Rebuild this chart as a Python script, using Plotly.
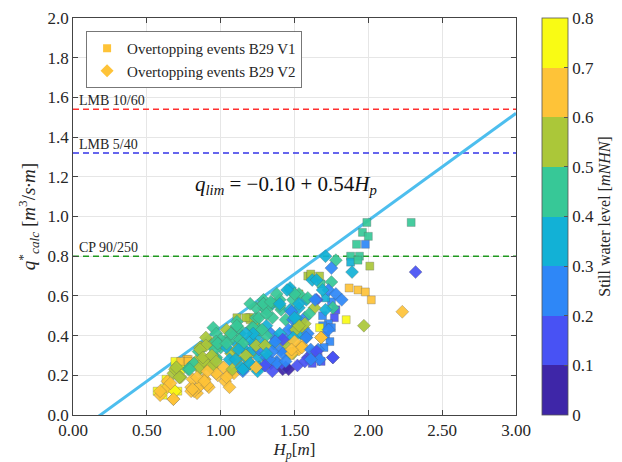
import plotly.graph_objects as go
import numpy as np

# ---------------- data ----------------
# V1 squares: H_p [m], q*_calc, still water level [m NHN]
v1_H = [0.57,0.62,0.70,0.73,0.77,0.69,0.73,0.78,0.73,0.63,0.61,0.71,1.22,1.31,
        1.19,1.11,1.20,1.53,1.59,1.61,1.67,1.68,1.61,
        1.99,2.29,1.96,2.00,1.92,1.98,1.88,1.94,1.88,1.93,2.01,
        1.87,1.93,1.98,2.02,1.85,
        1.75,1.71,1.78,1.69,1.77,1.73,1.69,1.75,1.67,1.71,1.74,1.70,1.60,1.66,1.62,1.68,
        1.24,1.20,1.17,0.78]
v1_q = [0.12,0.135,0.235,0.26,0.28,0.27,0.27,0.28,0.23,0.18,0.10,0.12,0.245,0.29,
        0.49,0.49,0.49,0.61,0.70,0.70,0.70,0.66,0.71,
        0.97,0.97,0.92,0.90,0.86,0.86,0.80,0.80,0.77,0.78,0.75,
        0.64,0.63,0.62,0.58,0.48,
        0.57,0.59,0.53,0.50,0.49,0.46,0.45,0.44,0.44,0.40,0.37,0.34,0.28,0.29,0.26,0.27,
        0.47,0.48,0.49,0.27]
v1_level = [0.75,0.75,0.75,0.75,0.65,0.75,0.65,0.65,0.75,0.75,0.75,0.75,0.75,0.75,
            0.55,0.55,0.55,0.55,0.55,0.55,0.55,0.45,0.55,
            0.45,0.45,0.45,0.45,0.45,0.25,0.45,0.45,0.35,0.45,0.55,
            0.65,0.65,0.65,0.65,0.75,
            0.25,0.35,0.15,0.25,0.15,0.25,0.25,0.25,0.75,0.25,0.25,0.25,0.15,0.15,0.15,0.15,
            0.55,0.55,0.55,0.65]

# V2 diamonds
v2_H = [0.59,0.64,0.68,0.69,0.72,0.68,0.78,0.82,0.80,0.84,0.86,0.89,0.92,0.86,0.87,0.93,0.86,0.95,0.98,1.03,
        1.06,1.09,0.97,1.00,1.04,1.07,1.11,1.13,1.16,1.20,1.17,1.13,1.21,1.24,1.29,1.24,1.29,1.34,1.38,1.42,
        1.41,1.44,1.47,1.53,1.49,1.44,1.41,1.35,1.49,1.53,1.58,1.47,1.53,1.62,1.11,1.07,0.95,0.90,0.97,0.99,
        1.04,1.11,1.15,1.22,1.26,1.31,1.34,1.38,1.31,1.35,1.40,1.24,1.29,1.22,1.26,1.18,1.15,
        1.47,1.40,1.34,1.29,1.31,1.26,1.22,1.12,1.08,1.04,1.00,0.95,0.93,0.90,1.47,1.49,1.46,1.53,1.54,1.40,
        1.36,1.44,1.42,1.49,1.53,1.38,1.44,1.46,1.31,1.26,1.22,1.17,1.11,1.13,1.20,1.06,1.02,0.97,1.08,1.14,
        1.58,1.59,
        1.71,1.78,1.75,1.89,2.32,1.97,2.23,1.76,1.65,1.75,1.73,1.78,1.82,1.76,1.71,1.68,1.66,1.62,1.59,1.65,
        1.50,1.53,1.635,1.57,1.51,1.56,1.51,1.59,1.49,1.55,1.48,
        0.70,0.69,0.73,0.86,0.85,0.90,0.79,0.82,0.86,0.93,0.96,0.97,0.97,0.89,0.93,0.81,0.85,0.82,0.89,0.91,
        0.80,0.64,0.59,0.69,0.68,
        1.52,1.57,1.35,1.30,1.25,
        1.33,1.44,1.30,1.26,1.35,1.42,1.37,1.50,1.55,1.48,1.58,1.61,1.65,1.67,1.61,1.76,1.68,1.73,1.64,1.69,
        1.48,1.57,1.53,1.50,1.60,1.20,1.29,1.34,1.40,1.45,1.38,1.31,1.28,1.22,1.17,1.15,1.24,1.30,1.17,1.20,
        1.15,1.24,1.31,
        0.72,0.66,0.70,0.79,0.86,0.88,0.94,0.98,0.97,1.04,1.07,1.11,1.12,1.10,0.91,0.84,0.89,0.81,1.04,1.06]
v2_q = [0.10,0.17,0.08,0.12,0.19,0.21,0.23,0.26,0.14,0.11,0.15,0.18,0.14,0.29,0.34,0.36,0.23,0.24,0.20,0.17,
        0.21,0.21,0.29,0.34,0.38,0.31,0.28,0.235,0.235,0.26,0.32,0.41,0.44,0.49,0.54,0.39,0.36,0.26,0.27,0.23,
        0.33,0.38,0.31,0.34,0.43,0.48,0.53,0.56,0.58,0.54,0.58,0.63,0.61,0.68,0.47,0.42,0.44,0.39,0.41,0.36,
        0.34,0.36,0.34,0.36,0.43,0.45,0.41,0.38,0.40,0.49,0.58,0.54,0.58,0.32,0.29,0.28,0.22,
        0.64,0.55,0.56,0.56,0.53,0.49,0.44,0.44,0.39,0.43,0.38,0.36,0.29,0.26,0.53,0.48,0.43,0.46,0.41,0.41,
        0.36,0.36,0.31,0.31,0.33,0.26,0.24,0.23,0.29,0.24,0.33,0.29,0.33,0.38,0.38,0.28,0.24,0.21,0.23,0.24,
        0.39,0.29,
        0.80,0.78,0.74,0.72,0.72,0.45,0.52,0.29,0.68,0.67,0.63,0.61,0.58,0.54,0.53,0.39,0.33,0.31,0.59,0.58,
        0.61,0.56,0.54,0.49,0.49,0.44,0.43,0.41,0.39,0.35,0.31,
        0.24,0.23,0.19,0.34,0.32,0.35,0.24,0.26,0.24,0.29,0.33,0.28,0.37,0.27,0.24,0.18,0.14,0.12,0.18,0.15,
        0.12,0.14,0.12,0.12,0.08,
        0.25,0.27,0.22,0.25,0.22,
        0.28,0.27,0.25,0.33,0.32,0.38,0.37,0.37,0.34,0.33,0.39,0.33,0.32,0.28,0.28,0.29,0.39,0.43,0.58,0.63,
        0.52,0.46,0.45,0.49,0.51,0.56,0.56,0.57,0.56,0.63,0.61,0.51,0.43,0.41,0.41,0.36,0.35,0.35,0.30,0.26,
        0.23,0.24,0.31,
        0.19,0.16,0.24,0.23,0.33,0.29,0.30,0.36,0.27,0.36,0.41,0.45,0.33,0.28,0.22,0.19,0.17,0.13,0.19,0.14]
v2_level = [0.65,0.65,0.65,0.65,0.55,0.55,0.45,0.55,0.65,0.65,0.65,0.65,0.65,0.55,0.55,0.45,0.55,0.55,0.65,0.65,
            0.65,0.65,0.45,0.45,0.45,0.55,0.55,0.65,0.35,0.35,0.55,0.45,0.45,0.45,0.45,0.35,0.35,0.15,0.25,0.05,
            0.25,0.25,0.35,0.65,0.35,0.45,0.45,0.35,0.45,0.35,0.35,0.35,0.45,0.35,0.45,0.45,0.45,0.55,0.45,0.55,
            0.35,0.35,0.35,0.25,0.45,0.35,0.25,0.25,0.45,0.45,0.45,0.45,0.45,0.55,0.35,0.65,0.25,
            0.35,0.45,0.45,0.45,0.45,0.45,0.45,0.45,0.45,0.55,0.45,0.55,0.45,0.55,0.35,0.25,0.25,0.35,0.35,0.35,
            0.35,0.55,0.25,0.55,0.65,0.25,0.15,0.05,0.25,0.35,0.35,0.35,0.55,0.45,0.35,0.35,0.65,0.65,0.55,0.35,
            0.35,0.15,
            0.35,0.45,0.25,0.35,0.15,0.55,0.65,0.15,0.35,0.45,0.25,0.25,0.25,0.45,0.35,0.65,0.25,0.15,0.45,0.15,
            0.45,0.35,0.55,0.25,0.35,0.55,0.55,0.25,0.35,0.65,0.65,
            0.75,0.55,0.55,0.55,0.45,0.55,0.45,0.45,0.55,0.55,0.45,0.45,0.45,0.55,0.55,0.65,0.65,0.65,0.65,0.65,
            0.65,0.65,0.65,0.75,0.65,
            0.15,0.15,0.15,0.25,0.35,
            0.25,0.25,0.15,0.25,0.25,0.15,0.25,0.65,0.65,0.65,0.25,0.25,0.15,0.25,0.25,0.15,0.65,0.25,0.25,0.35,
            0.25,0.55,0.55,0.35,0.45,0.45,0.45,0.45,0.35,0.35,0.45,0.45,0.45,0.35,0.35,0.45,0.55,0.55,0.55,0.35,
            0.35,0.65,0.35,
            0.55,0.65,0.55,0.45,0.55,0.55,0.55,0.45,0.55,0.45,0.45,0.45,0.35,0.35,0.65,0.65,0.65,0.65,0.65,0.65]

# reference limit lines
limit_names = ["LMB 10/60", "LMB 5/40", "CP 90/250"]
limit_values = [1.54, 1.32, 0.80]
limit_colors = ["#ff3030", "#3535e8", "#1f9a1f"]

# regression line q_lim = a + b*H_p
q_a, q_b = -0.10, 0.54
H_range = [0.0, 3.0]

level_ticks = [0, 0.1, 0.2, 0.3, 0.4, 0.5, 0.6, 0.7, 0.8]
level_ticktext = ["0", "0.1", "0.2", "0.3", "0.4", "0.5", "0.6", "0.7", "0.8"]
parula8 = ["#3e26a8", "#4852f4", "#2e87f7", "#12b1d6", "#37c897", "#abc739", "#fec338", "#f9fb14"]

# ---------------- figure ----------------
FONT = "Liberation Serif"
cs = []
for i, c in enumerate(parula8):
    cs.append([i / 8, c])
    cs.append([(i + 1) / 8, c])

fig = go.Figure()

for name, val, col in zip(limit_names, limit_values, limit_colors):
    fig.add_trace(go.Scatter(x=H_range, y=[val, val], mode="lines",
                             line=dict(color=col, width=1.5, dash="6px,4px"),
                             showlegend=False, hoverinfo="skip"))

Hl = np.array(H_range)
fig.add_trace(go.Scatter(x=Hl, y=q_a + q_b * Hl, mode="lines",
                         line=dict(color="#4dbeee", width=3),
                         showlegend=False, hoverinfo="skip"))

marker_common = dict(cmin=0, cmax=0.8, colorscale=cs, opacity=0.92,
                     line=dict(color="rgba(90,90,90,0.45)", width=0.7))

fig.add_trace(go.Scatter(x=v1_H, y=v1_q, mode="markers", showlegend=False,
                         marker=dict(symbol="square", size=8, color=v1_level, **marker_common)))
fig.add_trace(go.Scatter(x=v2_H, y=v2_q, mode="markers", showlegend=False,
                         marker=dict(symbol="diamond", size=10, color=v2_level,
                                     colorbar=dict(x=542 / 622, xref="container", xanchor="left",
                                                   y=0.5, yanchor="middle",
                                                   len=1, lenmode="fraction", thickness=26,
                                                   xpad=0, ypad=0,
                                                   outlinewidth=0.8, outlinecolor="#555",
                                                   tickvals=level_ticks, ticktext=level_ticktext,
                                                   ticks="inside", ticklen=4, tickcolor="#555",
                                                   tickfont=dict(family=FONT, size=17, color="#262626"),
                                                   title=dict(text="Still water level [<i>mNHN</i>]",
                                                              side="right",
                                                              font=dict(family=FONT, size=16, color="#262626"))),
                                     **marker_common)))

fig.add_trace(go.Scatter(x=[None], y=[None], mode="markers", name="Overtopping events B29 V1",
                         marker=dict(symbol="square", size=8, color=parula8[6])))
fig.add_trace(go.Scatter(x=[None], y=[None], mode="markers", name="Overtopping events B29 V2",
                         marker=dict(symbol="diamond", size=10, color=parula8[6])))

for name, val in zip(limit_names, limit_values):
    fig.add_annotation(x=0.03, y=val, text=name, showarrow=False, xanchor="left", yanchor="bottom",
                       yshift=-1, font=dict(family=FONT, size=14, color="#262626"))

fig.add_annotation(x=1.445, y=1.16, showarrow=False,
                   text="<i>q</i><sub><i>lim</i></sub> = \u22120.10 + 0.54<i>H</i><sub><i>p</i></sub>",
                   font=dict(family=FONT, size=21, color="#111"))

axis_common = dict(showline=True, linecolor="#444", linewidth=0.8, mirror="ticks",
                   ticks="inside", ticklen=5, tickcolor="#444",
                   showgrid=True, gridcolor="#e6e6e6", gridwidth=1, zeroline=False,
                   tickfont=dict(family=FONT, size=17, color="#262626"))

fig.update_xaxes(range=[0, 3], dtick=0.5, tickformat=".2f",
                 title=dict(text="<i>H</i><sub><i>p</i></sub>[<i>m</i>]", standoff=5,
                            font=dict(family=FONT, size=17, color="#262626")),
                 **axis_common)
fig.update_yaxes(range=[0, 2], dtick=0.2, tickformat=".1f",
                 title=dict(text="<i>q</i><sup>*</sup><sub><i>calc</i></sub> [<i>m</i><sup>3</sup>/<i>s\u00b7m</i>]",
                            standoff=6, font=dict(family=FONT, size=19, color="#262626")),
                 **axis_common)

fig.update_layout(width=622, height=462,
                  margin=dict(l=73, r=106, t=18, b=47, autoexpand=False),
                  paper_bgcolor="white", plot_bgcolor="white",
                  legend=dict(x=0.03, y=0.967, xanchor="left", yanchor="top",
                              bgcolor="white", bordercolor="#555", borderwidth=0.8,
                              font=dict(family=FONT, size=15, color="#262626")),
                  font=dict(family=FONT))

fig.write_html("out.html")
